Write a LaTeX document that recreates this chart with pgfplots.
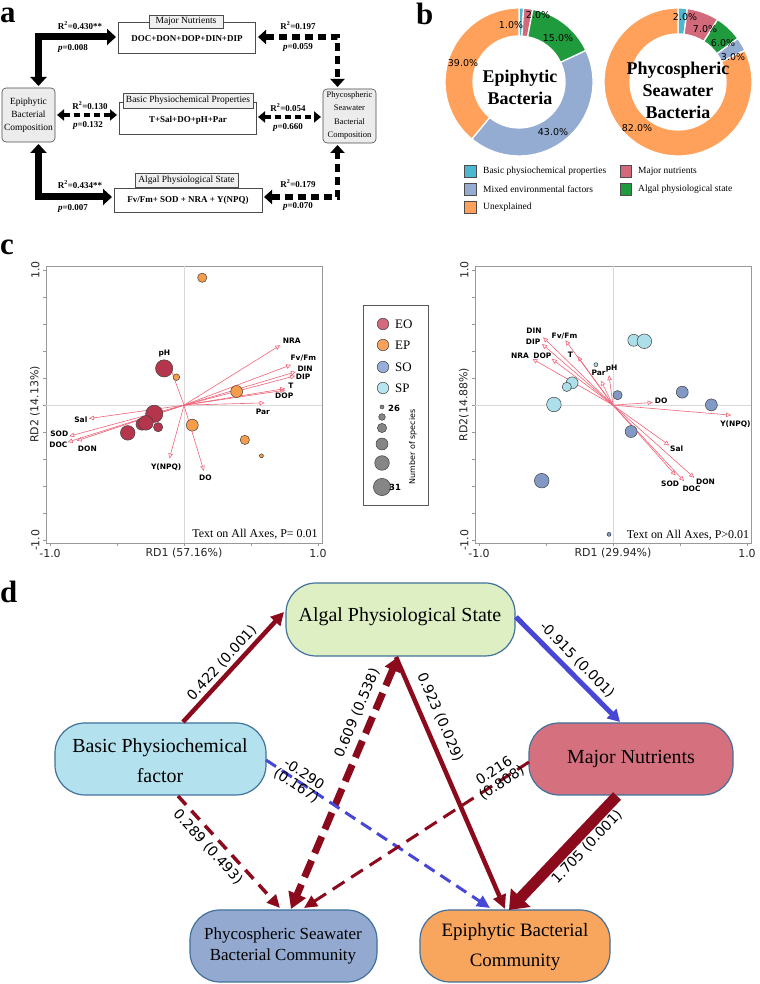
\documentclass[border=0pt]{standalone}
\usepackage{fontspec}
\setmainfont{Liberation Serif}
\newfontfamily\tnr{Liberation Serif}
\newfontfamily\dejavu{DejaVu Sans}
\usepackage{pgfplots}
\usepackage{pgfplotstable}
\pgfplotsset{compat=1.18}
\usetikzlibrary{arrows.meta}

\newcommand\fsz[1]{\fontsize{#1}{#1}\selectfont}

\definecolor{cBasic}{HTML}{4BB7D0}
\definecolor{cMajor}{HTML}{D26A7C}
\definecolor{cAlgal}{HTML}{1F9A3D}
\definecolor{cMixed}{HTML}{94ABD2}
\definecolor{cUnexp}{HTML}{FFA15A}
\definecolor{arrowred}{HTML}{F06478}
\definecolor{cEO}{HTML}{B5364C}
\definecolor{cEP}{HTML}{F79C4A}
\definecolor{cSO}{HTML}{8299C6}
\definecolor{cSP}{HTML}{ADDFEA}
\definecolor{lEO}{HTML}{D36A7B}
\definecolor{lEP}{HTML}{F9A25C}
\definecolor{lSO}{HTML}{98AEDA}
\definecolor{lSP}{HTML}{B6E5EF}
\definecolor{dred}{HTML}{8B0B1D}
\definecolor{dblue}{HTML}{4747D6}
\definecolor{nodeline}{HTML}{41719C}
\definecolor{nAlgal}{HTML}{DDEFC3}
\definecolor{nBasic}{HTML}{B3E1EE}
\definecolor{nMajor}{HTML}{D5707F}
\definecolor{nPhyco}{HTML}{93A9D0}
\definecolor{nEpi}{HTML}{F8A55D}

% ---- b: donut shares (percent), cum = share before the slice
\pgfplotstableread{
x y cum pct ro ri cls
0 0 0 1 74 46 bp
0 0 1 2 74 46 mn
0 0 3 15 74 46 al
0 0 18 43 74 46 mx
0 0 61 39 74 46 un
}\donutEpi
\pgfplotstableread{
x y cum pct ro ri cls
0 0 0 2 74 48 bp
0 0 2 7 74 48 mn
0 0 9 6 74 48 al
0 0 15 3 74 48 mx
0 0 18 82 74 48 un
}\donutSea

% ---- c: RDA sample scores (n = number of species)
\pgfplotstableread{
x y n
-0.148 0.272 31
-0.222 -0.064 31
-0.314 -0.141 29
-0.284 -0.131 30
-0.193 -0.163 28
-0.420 -0.205 30
}\ptsEO
\pgfplotstableread{
x y n
0.136 0.943 28
-0.057 0.207 27
0.393 0.101 29
0.062 -0.148 29
0.454 -0.257 28
0.578 -0.375 26
}\ptsEP
\pgfplotstableread{
x y n
0.034 0.074 28
0.517 0.096 29
0.734 0.002 29
0.135 -0.195 29
-0.532 -0.559 30
-0.030 -0.956 26
}\ptsSO
\pgfplotstableread{
x y n
0.155 0.480 29
0.234 0.473 30
-0.305 0.165 29
-0.345 0.135 28
-0.441 0.005 30
-0.128 0.300 26
}\ptsSP

% ---- c: environmental vectors and label positions
\pgfplotstableread{
x y u v lx ly lab
0 0 0.719 0.444 0.805 0.477 NRA
0 0 0.800 0.299 0.891 0.346 Fv/Fm
0 0 0.835 0.247 0.904 0.272 DIN
0 0 0.830 0.217 0.889 0.210 DIP
0 0 0.756 0.123 0.798 0.141 T
0 0 0.756 0.111 0.748 0.069 DOP
0 0 0.602 0.017 0.588 -0.052 Par
0 0 0.148 -0.486 0.160 -0.538 DO
0 0 -0.109 -0.395 -0.133 -0.457 Y(NPQ)
0 0 -0.116 0.314 -0.146 0.383 pH
0 0 -0.709 -0.099 -0.770 -0.104 Sal
0 0 -0.857 -0.230 -0.931 -0.210 SOD
0 0 -0.869 -0.274 -0.938 -0.291 DOC
0 0 -0.800 -0.264 -0.721 -0.321 DON
}\vecL
\pgfplotstableread{
x y u v lx ly lab
0 0 -0.522 0.502 -0.589 0.547 DIN
0 0 -0.530 0.453 -0.596 0.466 DIP
0 0 -0.355 0.480 -0.362 0.510 Fv/Fm
0 0 -0.601 0.342 -0.695 0.369 NRA
0 0 -0.456 0.342 -0.527 0.369 DOP
0 0 -0.264 0.362 -0.318 0.374 T
0 0 -0.091 0.182 -0.108 0.239 Par
0 0 -0.030 0.222 -0.010 0.271 pH
0 0 0.296 0.020 0.360 0.030 DO
0 0 0.882 -0.074 0.914 -0.138 Y(NPQ)
0 0 0.421 -0.298 0.475 -0.320 Sal
0 0 0.468 -0.520 0.426 -0.579 SOD
0 0 0.530 -0.562 0.586 -0.618 DOC
0 0 0.606 -0.537 0.690 -0.567 DON
}\vecR

% size key of the legend
\pgfplotstableread{
x y n
19 98 26
19 88 27
19 77 28
19 61 29
19 42 30
19 18 31
}\sizekey

% annular sector, angles and radii come from the table
\pgfdeclareplotmark{slice}{%
  \pgfpathmoveto{\pgfpointpolar{\sa}{\Ro bp}}%
  \pgfpatharc{\sa}{\sb}{\Ro bp}%
  \pgfpathlineto{\pgfpointpolar{\sb}{\Ri bp}}%
  \pgfpatharc{\sb}{\sa}{\Ri bp}%
  \pgfpathclose
  \pgfusepathqfillstroke}

\pgfplotsset{
  donut/.style={scatter, only marks, mark=slice, point meta=explicit symbolic,
    scatter/classes={bp={fill=cBasic}, mn={fill=cMajor}, al={fill=cAlgal},
      mx={fill=cMixed}, un={fill=cUnexp}},
    mark options={draw=white, line width=1.3bp},
    visualization depends on={90-3.6*\thisrow{cum} \as \sa},
    visualization depends on={90-3.6*(\thisrow{cum}+\thisrow{pct}) \as \sb},
    visualization depends on={\thisrow{ro} \as \Ro},
    visualization depends on={\thisrow{ri} \as \Ri}},
  donutaxis/.style={anchor=center, hide axis, scale only axis, width=160bp, height=160bp,
    xmin=-80, xmax=80, ymin=-80, ymax=80, clip=false},
  pts/.style={scatter, only marks, mark=*,
    scatter/use mapped color={draw=black!75, fill=#1},
    mark options={line width=0.5pt},
    visualization depends on={2+1.33*(\thisrow{n}-26) \as \rad},
    scatter/@pre marker code/.append style={/tikz/mark size=\rad}},
  vec/.style={draw=arrowred, line width=0.6pt,
    -{Triangle[open, length=5bp, width=4.5bp]},
    quiver={u=\thisrow{u}, v=\thisrow{v}}},
  vlab/.style={draw=none, nodes near coords, point meta=explicit symbolic,
    every node near coord/.append style={anchor=center, inner sep=0pt, text=black,
      font=\dejavu\bfseries\fsz{7.5}}},
  rda/.style={anchor=south west, scale only axis, width=276bp, height=277bp,
    xmin=-1.03, xmax=1.03, ymin=-1.02, ymax=1.03, clip=false,
    axis line style={draw=gray!80, line width=0.6pt},
    tick style={draw=gray!80, line width=0.6pt},
    tick pos=left, tick align=outside, major tick length=3bp,
    xtick={-1,-0.5,0,0.5,1}, xticklabels={-1.0,,,,1.0},
    ytick={-1,-0.8,-0.6,-0.4,-0.2,0,0.2,0.4,0.6,0.8,1},
    yticklabels={-1.0,,,,,,,,,,1.0},
    ticklabel style={font=\dejavu\fsz{11}, text=black!85},
    yticklabel style={rotate=90, anchor=south},
    label style={font=\dejavu\fsz{11}, text=black!85},
    xlabel style={at={(axis description cs:0.5,-0.036)}, anchor=center},
    ylabel style={at={(axis description cs:-0.04,0.5)}, anchor=center}},
}

\begin{document}
\begin{tikzpicture}[x=1bp, y=1bp]
\useasboundingbox (0,0) rectangle (760,984);
\fill[white] (0,0) rectangle (760,984);

% ================= b: donuts =================
\begin{axis}[donutaxis, at={(519bp,902bp)}]
\addplot[donut] table[x=x, y=y, meta=cls] {\donutEpi};
\end{axis}
\begin{axis}[donutaxis, at={(678bp,902bp)}]
\addplot[donut] table[x=x, y=y, meta=cls] {\donutSea};
\end{axis}

% ================= c: RDA plots =================
\begin{axis}[rda, at={(46bp,441bp)}, xlabel={RD1 (57.16\%)}, ylabel={RD2 (14.13\%)}]
\draw[gray!30, line width=0.7pt] (axis cs:0,-1.02) -- (axis cs:0,1.03);
\draw[gray!30, line width=0.7pt] (axis cs:-1.03,0) -- (axis cs:1.03,0);
\addplot[pts=cEO] table {\ptsEO};
\addplot[pts=cEP] table {\ptsEP};
\addplot[vec] table {\vecL};
\addplot[vlab] table[x=lx, y=ly, meta=lab] {\vecL};
\end{axis}

\begin{axis}[rda, at={(475bp,441bp)}, xlabel={RD1 (29.94\%)}, ylabel={RD2(14.88\%)}]
\draw[gray!30, line width=0.7pt] (axis cs:0,-1.02) -- (axis cs:0,1.03);
\draw[gray!30, line width=0.7pt] (axis cs:-1.03,0) -- (axis cs:1.03,0);
\addplot[pts=cSP] table {\ptsSP};
\addplot[pts=cSO] table {\ptsSO};
\addplot[vec] table {\vecR};
\addplot[vlab] table[x=lx, y=ly, meta=lab] {\vecR};
\end{axis}

% legend of c
\begin{axis}[at={(363bp,479bp)}, anchor=south west, hide axis, scale only axis,
  width=65bp, height=200bp, xmin=0, xmax=65, ymin=0, ymax=200, clip=false]
\addplot[only marks, mark=*, mark size=5.8, mark options={fill=lEO, draw=black!75, line width=0.5pt}] coordinates {(20,181)};
\addplot[only marks, mark=*, mark size=5.8, mark options={fill=lEP, draw=black!75, line width=0.5pt}] coordinates {(20,160)};
\addplot[only marks, mark=*, mark size=5.8, mark options={fill=lSO, draw=black!75, line width=0.5pt}] coordinates {(20,138)};
\addplot[only marks, mark=*, mark size=5.8, mark options={fill=lSP, draw=black!75, line width=0.5pt}] coordinates {(20,117)};
\addplot[pts=gray!95] table {\sizekey};
\end{axis}

\begin{scope}[yshift=984bp]
% ================= panel labels =================
\tikzset{plab/.style={anchor=base west, inner sep=0pt, font=\tnr\bfseries\fsz{31}}}
\node[plab] at (0,-23) {a};
\node[plab] at (416,-25) {b};
\node[plab] at (0,-255) {c};
\node[plab] at (0,-603) {d};

% ================= a: scheme =================
\tikzset{tab/.style={draw=gray!60!black, fill=gray!12, line width=0.6bp, inner sep=0pt, font=\tnr\fsz{9.5}},
  abox/.style={draw=gray!60!black, fill=white, line width=0.6bp},
  lab/.style={font=\tnr\bfseries\fsz{9}, inner sep=0pt},
  bigA/.style={line width=7bp, {Triangle[length=9bp, width=16bp]}-{Triangle[length=9bp, width=16bp]}},
  dashA/.style={line width=5.5bp, dash pattern=on 8bp off 5bp, {Triangle[length=8bp, width=14bp]}-{Triangle[length=8bp, width=14bp]}},
  dashB/.style={line width=3.8bp, dash pattern=on 6bp off 4bp, {Triangle[length=7bp, width=11bp]}-{Triangle[length=7bp, width=11bp]}}}

\draw[abox] (118,-22) rectangle (255,-53);
\node[tab, minimum width=74bp, minimum height=13bp] at (186,-21.5) {Major Nutrients};
\node[lab] at (187,-39) {DOC+DON+DOP+DIN+DIP};

\draw[abox] (119,-102) rectangle (256,-134);
\node[tab, minimum width=130bp, minimum height=15bp] at (188,-100.5) {Basic Physiochemical Properties};
\node[lab] at (188,-120) {T+Sal+DO+pH+Par};

\draw[abox] (114,-188) rectangle (262,-212);
\node[tab, minimum width=103bp, minimum height=14bp] at (186.5,-180) {Algal Physiological State};
\node[lab] at (188,-200) {Fv/Fm+ SOD + NRA + Y(NPQ)};

\draw[draw=gray!60!black, fill=gray!15, line width=0.6bp, rounded corners=4bp] (2,-88) rectangle (55,-142);
\node[align=center, font=\tnr\fontsize{9.5}{13}\selectfont, inner sep=0pt] at (28.5,-115) {Epiphytic\\Bacterial\\Composition};
\draw[draw=gray!60!black, fill=gray!15, line width=0.6bp, rounded corners=4bp] (323,-89) rectangle (376,-143);
\node[align=center, font=\tnr\fontsize{8.5}{13.3}\selectfont, inner sep=0pt] at (349.5,-115.5) {Phycospheric\\Seawater\\Bacterial\\Composition};

\draw[bigA] (38.5,-86) -- (38.5,-37) -- (116,-37);
\draw[bigA] (38.5,-144) -- (38.5,-197) -- (112,-197);
\draw[dashA] (258,-37) -- (337.5,-37) -- (337.5,-87);
\draw[dashA] (264,-197) -- (337.5,-197) -- (337.5,-145);
\draw[dashB] (57,-115) -- (117,-115);
\draw[dashB] (258,-117) -- (321,-117);

\node[lab] at (80,-26) {R\textsuperscript{2}=0.430**};
\node[lab] at (73,-48) {\textit{p}=0.008};
\node[lab] at (298,-26) {R\textsuperscript{2}=0.197};
\node[lab] at (298,-47) {\textit{p}=0.059};
\node[lab] at (90,-106) {R\textsuperscript{2}=0.130};
\node[lab] at (88,-125) {\textit{p}=0.132};
\node[lab] at (288,-108) {R\textsuperscript{2}=0.054};
\node[lab] at (288,-127) {\textit{p}=0.660};
\node[lab] at (80,-185) {R\textsuperscript{2}=0.434**};
\node[lab] at (73,-208) {\textit{p}=0.007};
\node[lab] at (298,-184) {R\textsuperscript{2}=0.179};
\node[lab] at (298,-206) {\textit{p}=0.070};

% ================= b: texts and legend =================
\tikzset{pct/.style={font=\dejavu\fsz{9.5}, inner sep=0pt}}
\node[pct] at (511,-25) {1.0\%};
\node[pct] at (538,-15) {2.0\%};
\node[pct] at (558,-38) {15.0\%};
\node[pct] at (463,-63) {39.0\%};
\node[pct] at (553,-132) {43.0\%};
\node[pct] at (685,-17) {2.0\%};
\node[pct] at (705,-29) {7.0\%};
\node[pct] at (723,-43) {6.0\%};
\node[pct] at (733,-57) {3.0\%};
\node[pct] at (637,-128) {82.0\%};
\tikzset{dc/.style={font=\tnr\bfseries\fsz{18}, inner sep=0pt}}
\node[dc] at (520,-78) {Epiphytic};
\node[dc] at (520,-98) {Bacteria};
\node[dc] at (678,-70) {Phycospheric};
\node[dc] at (678,-91) {Seawater};
\node[dc] at (678,-112) {Bacteria};

\tikzset{lsq/.style={draw=black!70, line width=0.6bp}, ltx/.style={anchor=west, inner sep=0pt, font=\tnr\fsz{9.5}}}
\draw[lsq, fill=cBasic] (464,-165) rectangle (476,-177); \node[ltx] at (483,-171) {Basic physiochemical properties};
\draw[lsq, fill=cMixed] (464,-183) rectangle (476,-195); \node[ltx] at (483,-189) {Mixed environmental factors};
\draw[lsq, fill=cUnexp] (464,-201) rectangle (476,-213); \node[ltx] at (483,-207) {Unexplained};
\draw[lsq, fill=cMajor] (620,-165) rectangle (631,-177); \node[ltx] at (638,-171) {Major nutrients};
\draw[lsq, fill=cAlgal] (620,-183) rectangle (631,-195); \node[ltx] at (638,-189) {Algal physiological state};

% ================= c: texts =================
\node[font=\tnr\fsz{12}, inner sep=0pt] at (255,-534) {Text on All Axes, P= 0.01};
\node[font=\tnr\fsz{12}, inner sep=0pt] at (688,-535) {Text on All Axes, P>0.01};
\draw[gray!70!black, line width=0.6bp] (363,-305) rectangle (428,-505);
\tikzset{ktx/.style={anchor=west, inner sep=0pt, font=\tnr\fsz{13}}}
\node[ktx] at (395,-324) {EO};
\node[ktx] at (395,-345) {EP};
\node[ktx] at (395,-367) {SO};
\node[ktx] at (395,-388) {SP};
\node[anchor=west, inner sep=0pt, font=\dejavu\bfseries\fsz{8.5}] at (388,-408) {26};
\node[anchor=west, inner sep=0pt, font=\dejavu\bfseries\fsz{8.5}] at (389,-487) {31};
\node[rotate=90, inner sep=0pt, font=\dejavu\fsz{8}] at (413,-447) {Number of species};

% ================= d: path model =================
\tikzset{dn/.style={draw=nodeline, line width=1.2bp, rounded corners=30bp},
  dl/.style={font=\dejavu\fsz{14}, inner sep=0pt, align=center}}
\draw[dn, fill=nAlgal] (286,-583) rectangle (515,-656);
\draw[dn, fill=nBasic] (55,-723) rectangle (266,-795);
\draw[dn, fill=nMajor] (529,-723) rectangle (733,-795);
\draw[dn, fill=nPhyco] (190,-910) rectangle (377,-982);
\draw[dn, fill=nEpi] (420,-910) rectangle (610,-982);
\node[font=\tnr\fsz{20}, inner sep=0pt] at (400,-617) {Algal Physiological State};
\node[font=\tnr\fontsize{20}{30}\selectfont, align=center, inner sep=0pt] at (160,-761) {Basic Physiochemical\\factor};
\node[font=\tnr\fsz{20}, inner sep=0pt] at (631,-759) {Major Nutrients};
\node[font=\tnr\fontsize{17}{21}\selectfont, align=center, inner sep=0pt] at (283,-946) {Phycospheric Seawater\\Bacterial Community};
\node[font=\tnr\fontsize{19}{31}\selectfont, align=center, inner sep=0pt] at (515,-947) {Epiphytic Bacterial\\Community};

\draw[dred, line width=4.5bp, -{Triangle[length=13bp, width=13bp]}] (183,-722) -- (284,-612);
\draw[dblue, line width=5bp, -{Triangle[length=12bp, width=13bp]}] (516,-617) -- (620,-722);
\draw[dred, line width=11bp, -{Triangle[length=17bp, width=26bp]}] (617,-796) -- (509,-910);
\draw[dred, line width=4.5bp, -{Triangle[length=14bp, width=13bp]}] (396,-657) -- (505,-909);
\draw[dred, line width=7bp, dash pattern=on 18bp off 8bp, {Triangle[length=14bp, width=16bp]}-{Triangle[length=16bp, width=18bp]}] (398,-657) -- (291,-909);
\draw[dred, line width=3.5bp, dash pattern=on 12bp off 8bp, -{Triangle[length=13bp, width=12bp]}] (178,-796) -- (280,-908);
\draw[dblue, line width=3bp, dash pattern=on 12bp off 7bp, -{Triangle[length=13bp, width=12bp]}] (266,-760) -- (490,-908);
\draw[dred, line width=3bp, dash pattern=on 14bp off 8bp, -{Triangle[length=13bp, width=12bp]}] (529,-762) -- (304,-908);

\node[dl, rotate=47.7] at (222,-663) {0.422 (0.001)};
\node[dl, rotate=-45.5] at (577,-660) {-0.915 (0.001)};
\node[dl, rotate=46.6] at (587,-847) {1.705 (0.001)};
\node[dl, rotate=-66.5] at (440,-717) {0.923 (0.029)};
\node[dl, rotate=67.3] at (357,-713) {0.609 (0.538)};
\node[dl, rotate=-47.7] at (208,-847) {0.289 (0.493)};
\node[dl, rotate=-33.5] at (300,-780) {-0.290\\(0.167)};
\node[dl, rotate=33] at (498,-777) {0.216\\(0.808)};
\end{scope}
\end{tikzpicture}
\end{document}
